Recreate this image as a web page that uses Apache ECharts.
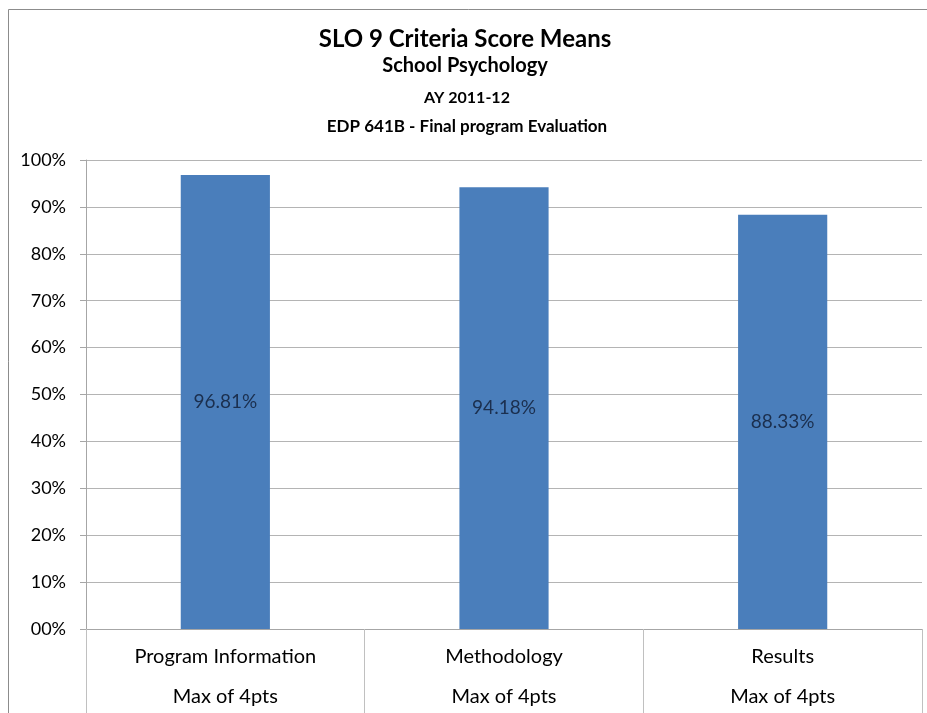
<!DOCTYPE html>
<html><head><meta charset="utf-8">
<script src="https://cdn.jsdelivr.net/npm/echarts@6/dist/echarts.min.js"></script>
<style>html,body{margin:0;padding:0;background:#fff}#c{width:927px;height:713px}</style>
</head><body><div id="c"></div>
<script>
var categories = ['Program Information', 'Methodology', 'Results'];
var subLabels = ['Max of 4pts', 'Max of 4pts', 'Max of 4pts'];
var values = [96.81, 94.18, 88.33];
var valueLabels = ['96.81%', '94.18%', '88.33%'];
var titleLines = ['SLO 9 Criteria Score Means', 'School Psychology', 'AY 2011-12', 'EDP 641B - Final program Evaluation'];

var F = 'Lato, "Open Sans", sans-serif';
var chart = echarts.init(document.getElementById('c'));
chart.setOption({
  animation: false,
  backgroundColor: '#fff',
  graphic: [
    {type: 'rect', shape: {x: 8.5, y: 9.5, width: 1000, height: 800}, style: {fill: 'none', stroke: '#8c8c8c', lineWidth: 1}, silent: true},
    {type: 'text', x: 465, y: 39, style: {text: titleLines[0], font: 'bold 24px ' + F, fill: '#000', align: 'center', verticalAlign: 'middle'}},
    {type: 'text', x: 465, y: 66, style: {text: titleLines[1], font: 'bold 20px ' + F, fill: '#000', align: 'center', verticalAlign: 'middle'}},
    {type: 'text', x: 467, y: 98, style: {text: titleLines[2], font: 'bold 16px ' + F, fill: '#000', align: 'center', verticalAlign: 'middle'}},
    {type: 'text', x: 467, y: 127, style: {text: titleLines[3], font: 'bold 17px ' + F, fill: '#000', align: 'center', verticalAlign: 'middle'}}
  ],
  grid: {left: 86, right: 5, top: 160, bottom: 84, outerBoundsMode: 'none', containLabel: false},
  xAxis: {
    type: 'category',
    data: categories,
    axisLine: {lineStyle: {color: '#a6a6a6'}},
    axisTick: {show: true, length: 84, lineStyle: {color: '#c0c0c0'}},
    axisLabel: {
      margin: 8,
      formatter: function (v, i) { return v + '\n' + subLabels[i]; },
      lineHeight: 40,
      fontSize: 20, fontFamily: F, color: '#000'
    }
  },
  yAxis: {
    type: 'value', min: 0, max: 100, interval: 10,
    axisLine: {show: true, lineStyle: {color: '#a6a6a6'}},
    axisTick: {show: true, length: 6, lineStyle: {color: '#a6a6a6'}},
    axisLabel: {
      margin: 20, fontSize: 18, fontFamily: F, color: '#000',
      formatter: function (v) { return (v === 0 ? '00' : v) + '%'; }
    },
    splitLine: {lineStyle: {color: '#b4b4b4'}}
  },
  series: [{
    type: 'bar',
    data: values,
    barWidth: '32%',
    itemStyle: {color: '#4a7ebb'},
    label: {
      show: true, position: 'inside',
      formatter: function (p) { return valueLabels[p.dataIndex]; },
      fontSize: 19, fontFamily: F, color: '#1b2f4e'
    }
  }]
});
</script></body></html>
